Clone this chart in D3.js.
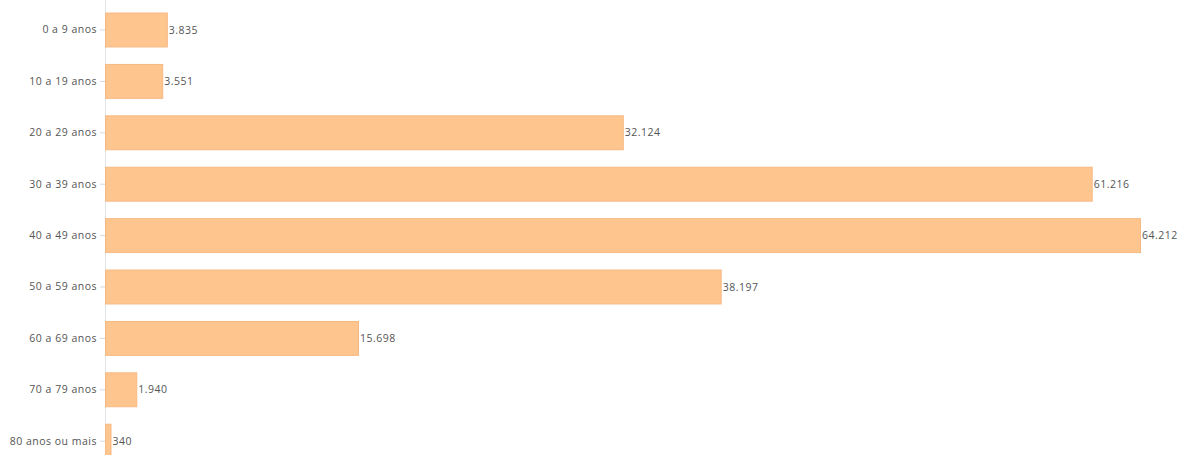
<!doctype html>
<html lang="pt">
<head>
  <meta charset="utf-8">
  <title>Faixa etária</title>
  <script src="https://d3js.org/d3.v7.min.js"></script>
  <style>
    body { margin: 0; background: #fff; }
    svg { display: block; }
  </style>
</head>
<body>
  <div id="chart"></div>
  <script type="text/javascript">

    var width = 1186, height = 455;

    // dados
    var categories = ['0 a 9 anos','10 a 19 anos','20 a 29 anos','30 a 39 anos','40 a 49 anos',
                      '50 a 59 anos','60 a 69 anos','70 a 79 anos','80 anos ou mais'];
    var values = [3835, 3551, 32124, 61216, 64212, 38197, 15698, 1940, 340];
    var valueLabels = ['3.835','3.551','32.124','61.216','64.212','38.197','15.698','1.940','340'];

    var left = 105;
    var font = '"Open Sans", Lato, sans-serif';

    var svg = d3.select('#chart')
                .append('svg')
                .attr('width', width)
                .attr('height', height);

    var x = d3.scaleLinear()
              .domain([0, d3.max(values)])
              .range([left, 1140]);

    var y = d3.scaleBand()
              .domain(categories)
              .range([4.3, 466.9])
              .paddingInner(0.34)
              .paddingOuter(0.17);

    // eixo vertical
    var yAxis = svg.append('g')
                   .attr('transform', 'translate(' + left + ',0)')
                   .call(d3.axisLeft(y).tickSize(5).tickPadding(3).tickSizeOuter(0));

    yAxis.select('.domain')
         .attr('d', 'M0.5,0V' + height)
         .attr('stroke', '#e3e6ea');
    yAxis.selectAll('.tick line').attr('stroke', '#d6d9dd');
    yAxis.selectAll('.tick text')
         .style('font-family', font)
         .style('font-size', '10.5px')
         .style('letter-spacing', '0.5px')
         .attr('fill', '#555');

    // barras
    var bars = svg.selectAll('.bar')
                  .data(values)
                  .enter()
                  .append('rect')
                  .attr('class', 'bar')
                  .attr('x', x(0) + 0.5)
                  .attr('y', function(d, i) { return y(categories[i]); })
                  .attr('width', function(d) { return Math.max(0, x(d) - x(0)); })
                  .attr('height', y.bandwidth())
                  .attr('fill', '#fec58f')
                  .attr('stroke', '#f7b983')
                  .attr('stroke-width', 1);

    // rótulos de valor
    svg.selectAll('.valueLabel')
       .data(values)
       .enter()
       .append('text')
       .attr('class', 'valueLabel')
       .attr('x', function(d) { return x(d) + 2; })
       .attr('y', function(d, i) { return y(categories[i]) + y.bandwidth() / 2; })
       .attr('dy', '0.35em')
       .text(function(d, i) { return valueLabels[i]; })
       .style('font-family', font)
       .style('font-size', '10.5px')
       .style('letter-spacing', '0.5px')
       .attr('fill', '#555');

  </script>
</body>
</html>
